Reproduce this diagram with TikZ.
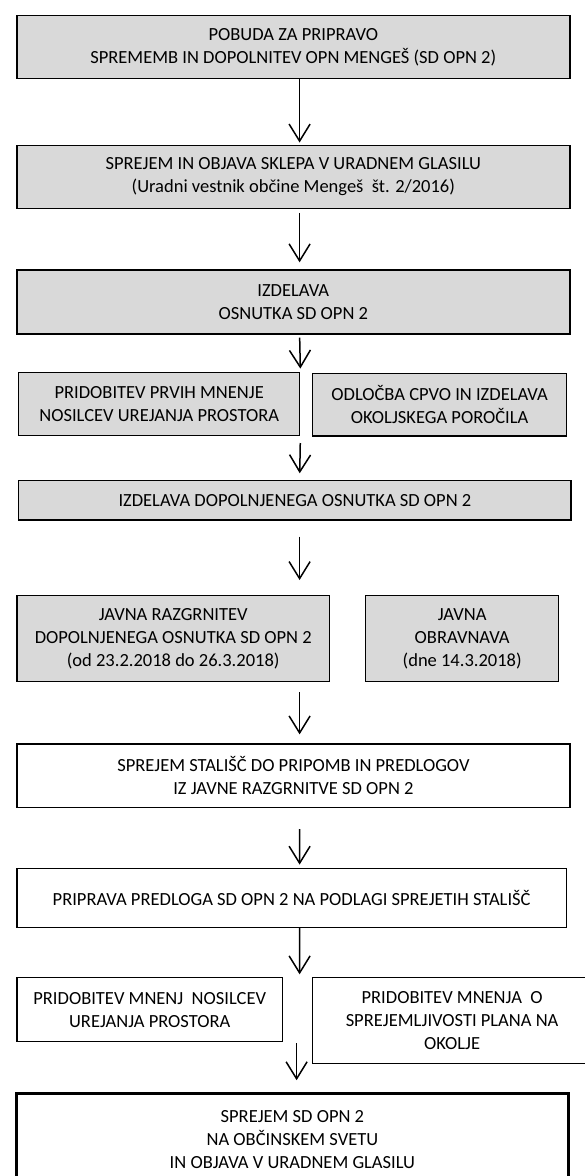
\documentclass[tikz,border=0pt]{standalone}
\usepackage{fontspec}
\setmainfont{Carlito}
\usetikzlibrary{arrows.meta}
\definecolor{boxgray}{HTML}{D9D9D9}

\tikzset{
    stage/.style={draw, line width=1.4pt, fill=boxgray, align=center, inner sep=0pt,
        font=\fontsize{18.5}{23}\selectfont},
    plainstage/.style={stage, fill=white},
    flow/.style={line width=1.5pt, -{Straight Barb[length=17pt, width=21pt, line width=1.5pt]}},
}

\begin{document}
\begin{tikzpicture}[x=1pt, y=-1pt]
        \useasboundingbox (0,0) rectangle (585,1176);
        \clip (0,0) rectangle (585,1176);
        \node [stage, minimum width=553pt, minimum height=63pt] (pobuda) at (293.3,47.2)
            {POBUDA ZA PRIPRAVO\\SPREMEMB IN DOPOLNITEV OPN MENGEŠ (SD OPN 2)};
        \node [stage, minimum width=553pt, minimum height=63pt] (sklep) at (293.3,176.7)
            {SPREJEM IN OBJAVA SKLEPA V URADNEM GLASILU\\(Uradni vestnik občine Mengeš\ \ št. 2/2016)};
        \node [stage, minimum width=553pt, minimum height=64pt] (osnutek) at (293.3,302)
            {IZDELAVA\\OSNUTKA SD OPN 2};
        \node [stage, minimum width=281pt, minimum height=63.4pt] (prvamnenja) at (159.2,404)
            {PRIDOBITEV PRVIH MNENJE\\NOSILCEV UREJANJA PROSTORA};
        \node [stage, minimum width=253.7pt, minimum height=62.7pt] (cpvo) at (439.6,404.7)
            {ODLOČBA CPVO IN IZDELAVA\\OKOLJSKEGA POROČILA};
        \node [stage, minimum width=552.3pt, minimum height=39.3pt] (dopolnjen) at (294.9,500.3)
            {IZDELAVA DOPOLNJENEGA OSNUTKA SD OPN 2};
        \node [stage, minimum width=312.7pt, minimum height=85.6pt] (razgrnitev) at (173.2,638.5)
            {JAVNA RAZGRNITEV\\DOPOLNJENEGA OSNUTKA SD OPN 2\\(od 23.2.2018 do 26.3.2018)};
        \node [stage, minimum width=193pt, minimum height=85.6pt] (obravnava) at (462.2,638.5)
            {JAVNA\\OBRAVNAVA\\(dne 14.3.2018)};
        \node [plainstage, minimum width=553.2pt, minimum height=63.3pt] (stalisca) at (293.4,775.7)
            {SPREJEM STALIŠČ DO PRIPOMB IN PREDLOGOV\\IZ JAVNE RAZGRNITVE SD OPN 2};
        \node [plainstage, minimum width=549.6pt, minimum height=59pt] (predlog) at (291.6,897.8)
            {PRIPRAVA PREDLOGA SD OPN 2 NA PODLAGI SPREJETIH STALIŠČ};
        \node [plainstage, minimum width=265.7pt, minimum height=64pt] (mnenja) at (149.7,1009.7)
            {PRIDOBITEV MNENJ\ \ NOSILCEV\\UREJANJA PROSTORA};
        \node [plainstage, minimum width=278.8pt, minimum height=85.6pt] (okolje) at (452.1,1020.5)
            {PRIDOBITEV MNENJA\ \ O\\SPREJEMLJIVOSTI PLANA NA\\OKOLJE};
        \node [plainstage, line width=3pt, minimum width=551.2pt, minimum height=92.6pt] (sprejem) at (292.4,1139.6)
            {SPREJEM SD OPN 2\\NA OBČINSKEM SVETU\\IN OBJAVA V URADNEM GLASILU};
        % puscice med koraki
        \draw [flow, shorten >=2pt] ([xshift=6.3pt]pobuda.south) -- ([xshift=6.3pt]sklep.north);
        \draw [flow, shorten <=4pt, shorten >=7pt] ([xshift=6.3pt]sklep.south) -- ([xshift=6.3pt]osnutek.north);
        \draw [flow, shorten <=3pt, shorten >=3pt] ([xshift=6.3pt]osnutek.south) -- (prvamnenja.north east);
        \draw [flow, shorten <=6.6pt, shorten >=6.7pt] (prvamnenja.south east) -- ([xshift=4.7pt]dopolnjen.north);
        \draw [flow, shorten <=16pt, shorten >=15pt] ([xshift=4.7pt]dopolnjen.south) -- ([xshift=126.4pt]razgrnitev.north);
        \draw [flow, shorten <=10pt, shorten >=9pt] ([xshift=126.4pt]razgrnitev.south) -- ([xshift=6.2pt]stalisca.north);
        \draw [flow, shorten <=21pt, shorten >=3pt] ([xshift=6.2pt]stalisca.south) -- ([xshift=8pt]predlog.north);
        \draw [flow, shorten >=2.7pt] ([xshift=8pt]predlog.south) -- ([xshift=149.9pt]mnenja.north);
        \draw [flow, shorten <=0.6pt, shorten >=11.6pt] ([xshift=146.9pt]mnenja.south) -- ([xshift=4.2pt]sprejem.north);
    \end{tikzpicture}
\end{document}
